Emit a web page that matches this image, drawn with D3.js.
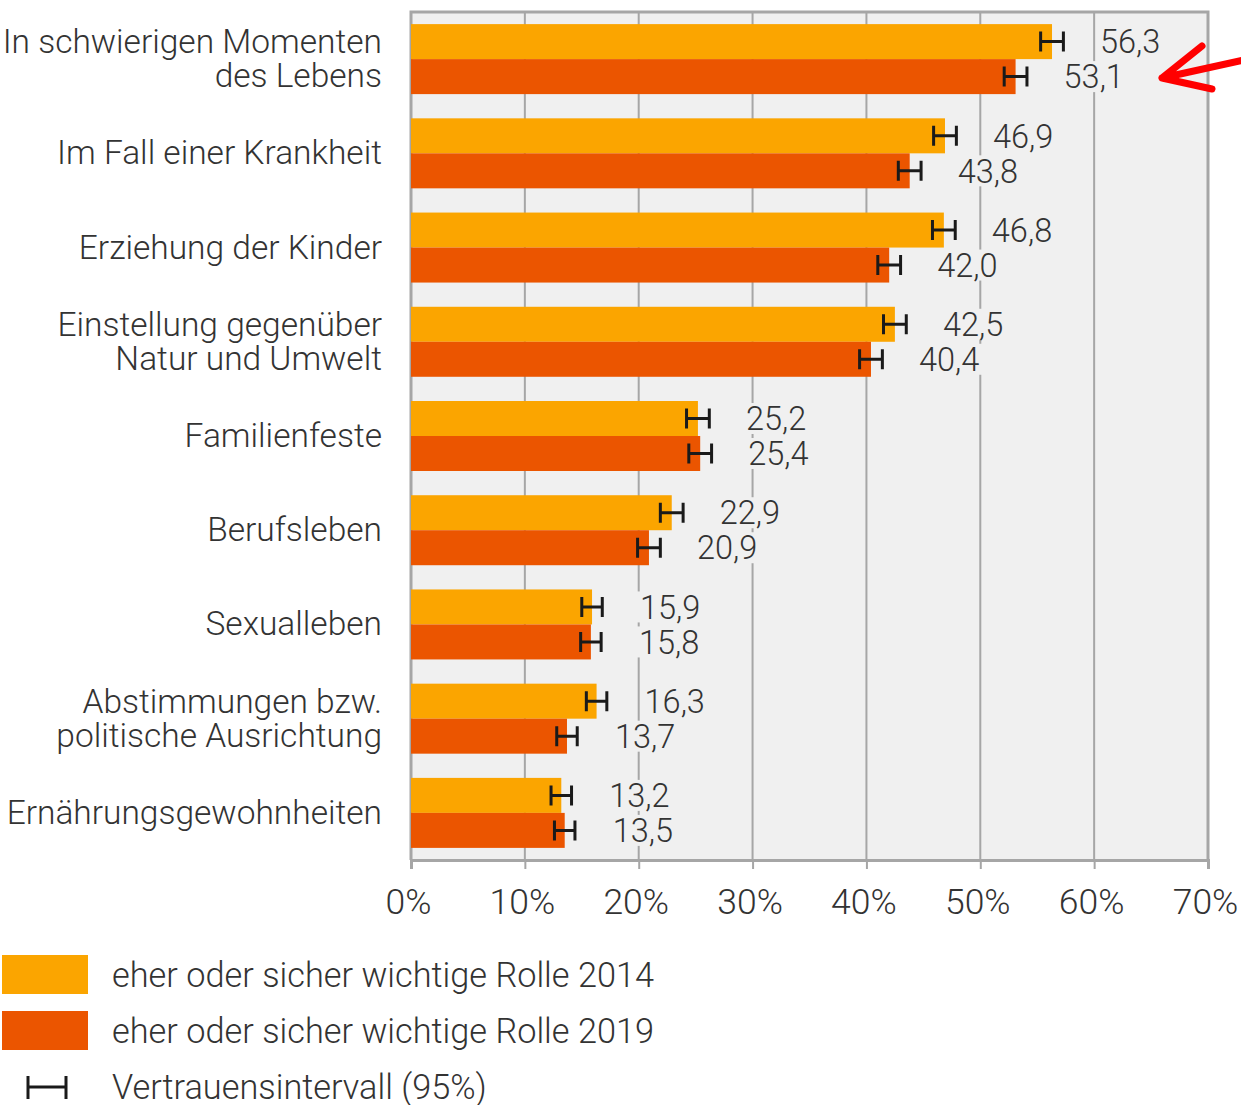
<!DOCTYPE html>
<html>
<head>
<meta charset="utf-8">
<script src="https://cdn.jsdelivr.net/npm/d3@7"></script>
<style>
  body { margin: 0; background: #fff; }
  svg { display: block; font-family: Roboto, "Open Sans", sans-serif; }
</style>
</head>
<body>
<div id="chart"></div>
<script>
// categories (each may span two lines)
var categories = [
  ['In schwierigen Momenten', 'des Lebens'],
  ['Im Fall einer Krankheit'],
  ['Erziehung der Kinder'],
  ['Einstellung gegenüber', 'Natur und Umwelt'],
  ['Familienfeste'],
  ['Berufsleben'],
  ['Sexualleben'],
  ['Abstimmungen bzw.', 'politische Ausrichtung'],
  ['Ernährungsgewohnheiten']
];
var values2014 = [56.3, 46.9, 46.8, 42.5, 25.2, 22.9, 15.9, 16.3, 13.2];
var values2019 = [53.1, 43.8, 42.0, 40.4, 25.4, 20.9, 15.8, 13.7, 13.5];
// half-width of the 95% confidence interval, in percentage points
var ci2014 = [1.0, 1.0, 1.0, 1.0, 1.0, 1.0, 0.9, 0.9, 0.9];
var ci2019 = [1.0, 1.0, 1.0, 1.0, 1.0, 1.0, 0.9, 0.9, 0.9];
var xTicks = [0, 10, 20, 30, 40, 50, 60, 70];
var legendLabels = [
  'eher oder sicher wichtige Rolle 2014',
  'eher oder sicher wichtige Rolle 2019',
  'Vertrauensintervall (95%)'
];

var W = 1241, H = 1105;
var LEFT = 411, RIGHT = 1208, TOP = 12, BOTTOM = 860;
var BAR_H = 35;
var C2014 = '#fba500', C2019 = '#eb5500';
var TEXT = '#333333', GRID = '#a6a6a6';

var svg = d3.select('#chart').append('svg')
  .attr('width', W)
  .attr('height', H);

var x = d3.scaleLinear().domain([0, 70]).range([LEFT, RIGHT]);
var y = d3.scaleBand()
  .domain(d3.range(categories.length))
  .range([TOP, BOTTOM])
  .paddingInner(0);

// plot background
svg.append('rect')
  .attr('x', LEFT).attr('y', TOP)
  .attr('width', RIGHT - LEFT).attr('height', BOTTOM - TOP)
  .attr('fill', '#f0f0f0');

// grid lines
svg.append('g').selectAll('line')
  .data(xTicks.slice(1, -1))
  .join('line')
  .attr('x1', function(d) { return x(d); })
  .attr('x2', function(d) { return x(d); })
  .attr('y1', TOP).attr('y2', BOTTOM)
  .attr('stroke', GRID)
  .attr('stroke-width', 2);

// frame
svg.append('path')
  .attr('d', 'M' + LEFT + ',' + BOTTOM + 'V' + TOP + 'H' + RIGHT + 'V' + BOTTOM)
  .attr('fill', 'none')
  .attr('stroke', GRID)
  .attr('stroke-width', 3);

var groups = svg.append('g').selectAll('g')
  .data(categories)
  .join('g')
  .attr('transform', function(d, i) { return 'translate(0,' + y(i) + ')'; });

function padTop() { return (y.bandwidth() - 2 * BAR_H) / 2; }

var series = [
  { vals: values2014, ci: ci2014, color: C2014, off: 0 },
  { vals: values2019, ci: ci2019, color: C2019, off: BAR_H }
];

series.forEach(function(s) {
  groups.each(function(d, i) {
    var g = d3.select(this);
    var v = s.vals[i];
    var yy = padTop() + s.off;
    var cy = yy + BAR_H / 2;

    // label background hides grid lines behind the value text
    var lbl = v.toFixed(1).replace('.', ',');
    g.append('rect')
      .attr('x', x(v) + 44)
      .attr('y', yy + 2)
      .attr('width', 68)
      .attr('height', BAR_H - 4)
      .attr('fill', '#f0f0f0');

    g.append('rect')
      .attr('x', LEFT)
      .attr('y', yy)
      .attr('width', x(v) - LEFT)
      .attr('height', BAR_H)
      .attr('fill', s.color);

    var lo = x(v - s.ci[i]), hi = x(v + s.ci[i]);
    g.append('path')
      .attr('d', 'M' + lo + ',' + (cy - 10) + 'V' + (cy + 10)
        + 'M' + hi + ',' + (cy - 10) + 'V' + (cy + 10)
        + 'M' + lo + ',' + cy + 'H' + hi)
      .attr('fill', 'none')
      .attr('stroke', '#1a1a1a')
      .attr('stroke-width', 3);

    g.append('text')
      .attr('x', x(v) + 48)
      .attr('y', cy)
      .attr('dy', '0.36em')
      .attr('fill', TEXT)
      .attr('font-size', '32.5px')
      .attr('font-weight', 300)
      .text(lbl);
  });
});

// category labels
groups.append('text')
  .attr('text-anchor', 'end')
  .attr('fill', TEXT)
  .attr('font-size', '33.5px')
  .attr('font-weight', 300)
  .each(function(d) {
    var t = d3.select(this);
    var mid = y.bandwidth() / 2;
    var lh = 34;
    d.forEach(function(line, li) {
      t.append('tspan')
        .attr('x', 382)
        .attr('y', mid + (li - (d.length - 1) / 2) * lh - 1)
        .attr('dy', '0.36em')
        .text(line);
    });
  });

// x axis
var axis = svg.append('g')
  .attr('transform', 'translate(0,' + BOTTOM + ')')
  .call(d3.axisBottom(x).tickValues(xTicks)
    .tickFormat(function(d) { return d + '%'; })
    .tickSize(9).tickPadding(20));
axis.select('.domain').attr('stroke', GRID).attr('stroke-width', 3);
axis.selectAll('.tick line').attr('stroke', GRID).attr('stroke-width', 2);
axis.selectAll('.tick text')
  .attr('x', -3)
  .attr('fill', TEXT)
  .attr('font-size', '35.5px')
  .attr('font-weight', 300)
  .attr('font-family', 'Roboto, sans-serif');

// legend
var legend = svg.append('g');
[C2014, C2019].forEach(function(c, i) {
  legend.append('rect')
    .attr('x', 2).attr('y', 955 + i * 56)
    .attr('width', 86).attr('height', 39)
    .attr('fill', c);
});
legend.append('path')
  .attr('d', 'M28,1076V1099M66,1076V1099M28,1087H66')
  .attr('fill', 'none')
  .attr('stroke', '#1a1a1a')
  .attr('stroke-width', 3);
legend.selectAll('text')
  .data(legendLabels)
  .join('text')
  .attr('x', 112)
  .attr('y', function(d, i) { return 975 + i * 56; })
  .attr('dy', '0.36em')
  .attr('fill', TEXT)
  .attr('font-size', '34.3px')
  .attr('font-weight', 300)
  .text(function(d) { return d; });

// red annotation arrow
svg.append('path')
  .attr('d', 'M1244,60L1162,78M1202,46L1162,78L1212,89')
  .attr('fill', 'none')
  .attr('stroke', '#ff0000')
  .attr('stroke-width', 7)
  .attr('stroke-linecap', 'round')
  .attr('stroke-linejoin', 'round');
</script>
</body>
</html>
